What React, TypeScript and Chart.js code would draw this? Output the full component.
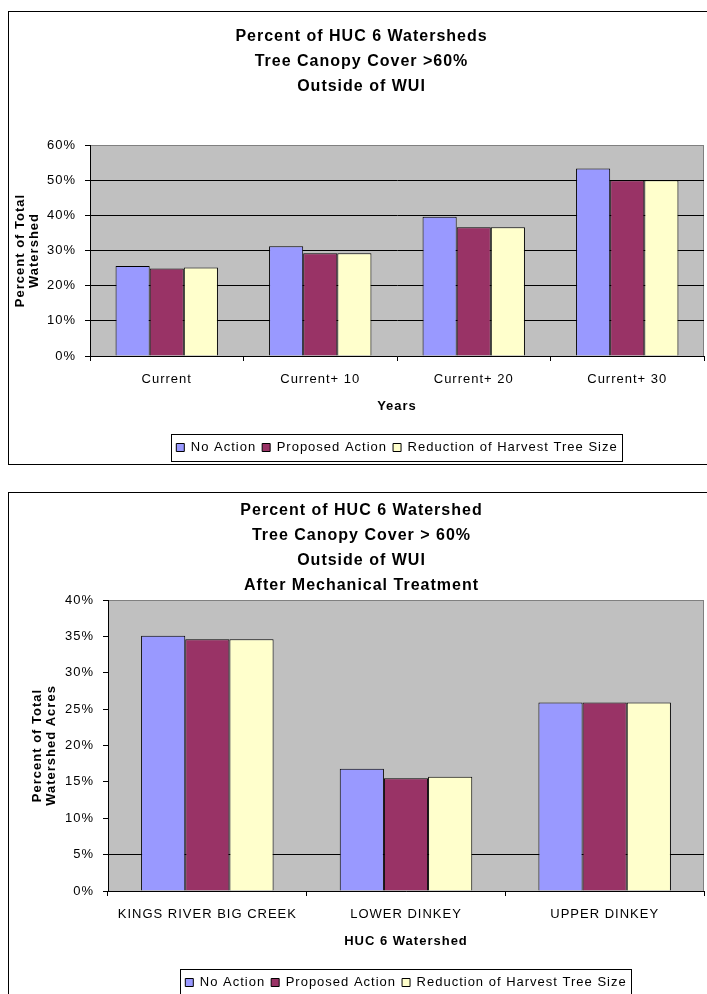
import React, { useEffect, useRef } from 'react';
import { Chart, registerables } from 'chart.js';

Chart.register(...registerables);

const FONT = '"Liberation Sans", Arial, Helvetica, sans-serif';

// ---------- shared ----------
const seriesNames = ['No Action', 'Proposed Action', 'Reduction of Harvest Tree Size'];
const seriesColors = ['#9999FF', '#993366', '#FFFFCC'];

// ---------- chart 1 ----------
const title1 = ['Percent of HUC 6 Watersheds', 'Tree Canopy Cover >60%', 'Outside of WUI'];
const categories1 = ['Current', 'Current+ 10', 'Current+ 20', 'Current+ 30'];
const noAction1 = [25.6, 31.2, 39.6, 53.3];
const proposed1 = [24.9, 29.2, 36.6, 50.0];
const reduction1 = [25.2, 29.2, 36.6, 50.0];
const yTicks1 = ['0%', '10%', '20%', '30%', '40%', '50%', '60%'];
const yTitle1 = ['Percent of Total', 'Watershed'];
const xTitle1 = 'Years';

// ---------- chart 2 ----------
const title2 = ['Percent of HUC 6 Watershed', 'Tree Canopy Cover > 60%', 'Outside of WUI', 'After Mechanical Treatment'];
const categories2 = ['KINGS RIVER BIG CREEK', 'LOWER DINKEY', 'UPPER DINKEY'];
const noAction2 = [35.1, 16.8, 25.9];
const proposed2 = [34.6, 15.5, 25.9];
const reduction2 = [34.6, 15.7, 25.9];
const yTicks2 = ['0%', '5%', '10%', '15%', '20%', '25%', '30%', '35%', '40%'];
const yTitle2 = ['Percent of Total', 'Watershed Acres'];
const xTitle2 = 'HUC 6 Watershed';

const LS = '1px';

const framePlugin = {
  id: 'excelFrame',
  beforeUpdate(chart: any) {
    chart.ctx.letterSpacing = LS;
  },
  beforeLayout(chart: any) {
    chart.ctx.letterSpacing = LS;
  },
  beforeDraw(chart: any) {
    const ctx = chart.ctx;
    ctx.letterSpacing = LS;
    const { left, top, right, bottom } = chart.chartArea;
    ctx.save();
    ctx.fillStyle = '#C0C0C0';
    ctx.fillRect(left, top, right - left, bottom - top);
    ctx.strokeStyle = '#808080';
    ctx.lineWidth = 1;
    ctx.strokeRect(Math.round(left) + 0.5, Math.round(top) + 0.5, Math.round(right - left) - 1, Math.round(bottom - top));
    ctx.restore();
  },
  afterDraw(chart: any) {
    const lg = chart.legend;
    if (!lg || !lg.legendHitBoxes || !lg.legendHitBoxes.length) return;
    const hb = lg.legendHitBoxes;
    const l = Math.min(...hb.map((h: any) => h.left)) - 5;
    const r = Math.max(...hb.map((h: any) => h.left + h.width)) + 5;
    const t = hb[0].top - 7;
    const b = hb[0].top + hb[0].height + 7;
    const ctx = chart.ctx;
    ctx.save();
    ctx.strokeStyle = '#000';
    ctx.lineWidth = 1;
    ctx.strokeRect(Math.round(l) + 0.5, Math.round(t) + 0.5, Math.round(r - l), Math.round(b - t));
    ctx.restore();
  },
};

interface Params {
  title: string[];
  titleTop: number;
  titleBottom: number;
  categories: string[];
  series: number[][];
  yMax: number;
  yStep: number;
  yTicks: string[];
  gridIdx: number[];
  yTitle: string[];
  yTitlePad: number;
  yWidth: number;
  xTitle: string;
  xHeight: number;
  xTitlePad: number;
}

function buildConfig(p: Params): any {
  return {
    type: 'bar',
    data: {
      labels: p.categories,
      datasets: seriesNames.map((name, i) => ({
        label: name,
        data: p.series[i],
        backgroundColor: seriesColors[i],
        borderColor: '#000000',
        borderWidth: 1,
        categoryPercentage: 0.667,
        barPercentage: 1,
      })),
    },
    options: {
      responsive: false,
      animation: false,
      devicePixelRatio: 1,
      events: [],
      layout: { padding: { left: 10, right: 25, top: 0, bottom: 0 } },
      plugins: {
        title: {
          display: true,
          text: p.title,
          color: '#000000',
          font: { family: FONT, size: 16, weight: 'bold', lineHeight: '25px' },
          padding: { top: p.titleTop, bottom: p.titleBottom },
        },
        legend: {
          position: 'bottom',
          fullSize: false,
          labels: {
            boxWidth: 8,
            boxHeight: 8,
            padding: 6,
            color: '#000000',
            font: { family: FONT, size: 13 },
          },
        },
        tooltip: { enabled: false },
      },
      scales: {
        x: {
          grid: { drawOnChartArea: false, drawTicks: true, tickLength: 5, tickColor: '#000000' },
          border: { color: '#000000', width: 1 },
          ticks: { color: '#000000', font: { family: FONT, size: 13 }, padding: 11, maxRotation: 0, autoSkip: false },
          title: {
            display: true,
            text: p.xTitle,
            color: '#000000',
            font: { family: FONT, size: 13, weight: 'bold' },
            padding: { top: 0, bottom: p.xTitlePad },
          },
          afterFit: (s: any) => {
            s.height = p.xHeight;
          },
        },
        y: {
          min: 0,
          max: p.yMax,
          ticks: {
            stepSize: p.yStep,
            color: '#000000',
            font: { family: FONT, size: 13 },
            padding: 9,
            callback: (_v: any, i: number) => p.yTicks[i],
          },
          grid: {
            color: (c: any) => (p.gridIdx.includes(c.index) ? '#000000' : 'rgba(0,0,0,0)'),
            tickColor: '#000000',
            tickLength: 5,
            lineWidth: 1,
          },
          border: { color: '#000000', width: 1 },
          title: {
            display: true,
            text: p.yTitle,
            color: '#000000',
            font: { family: FONT, size: 13, weight: 'bold', lineHeight: '14px' },
            padding: { top: p.yTitlePad, bottom: 0 },
          },
          afterFit: (s: any) => {
            s.width = p.yWidth;
          },
        },
      },
    },
    plugins: [framePlugin],
  };
}

function BarChart({ params, width, height }: { params: Params; width: number; height: number }) {
  const ref = useRef<HTMLCanvasElement | null>(null);
  useEffect(() => {
    if (!ref.current) return;
    const chart = new Chart(ref.current, buildConfig(params));
    return () => chart.destroy();
  }, [params]);
  return <canvas ref={ref} width={width} height={height} style={{ display: 'block', width, height }} />;
}

const params1: Params = {
  title: title1,
  titleTop: 12.5,
  titleBottom: 45.5,
  categories: categories1,
  series: [noAction1, proposed1, reduction1],
  yMax: 60,
  yStep: 10,
  yTicks: yTicks1,
  gridIdx: [1, 2, 3, 4, 5],
  yTitle: yTitle1,
  yTitlePad: -6,
  yWidth: 71,
  xTitle: xTitle1,
  xHeight: 79,
  xTitlePad: 21,
};

const params2: Params = {
  title: title2,
  titleTop: 5.5,
  titleBottom: 1.5,
  categories: categories2,
  series: [noAction2, proposed2, reduction2],
  yMax: 40,
  yStep: 5,
  yTicks: yTicks2,
  gridIdx: [1],
  yTitle: yTitle2,
  yTitlePad: 11,
  yWidth: 89,
  xTitle: xTitle2,
  xHeight: 79,
  xTitlePad: 21,
};

export default function App() {
  useEffect(() => {
    document.documentElement.style.overflow = 'hidden';
    document.body.style.margin = '0';
    const root = document.getElementById('root');
    if (root) {
      root.style.overflow = 'visible';
    }
  }, []);
  return (
    <div style={{ position: 'relative', width: 707, height: 994, overflow: 'hidden', background: '#fff' }}>
      <div style={{ position: 'absolute', left: 8, top: 11, border: '1px solid #000', background: '#fff' }}>
        <BarChart params={params1} width={720} height={452} />
      </div>
      <div style={{ position: 'absolute', left: 8, top: 492, border: '1px solid #000', background: '#fff' }}>
        <BarChart params={params2} width={720} height={506} />
      </div>
    </div>
  );
}
